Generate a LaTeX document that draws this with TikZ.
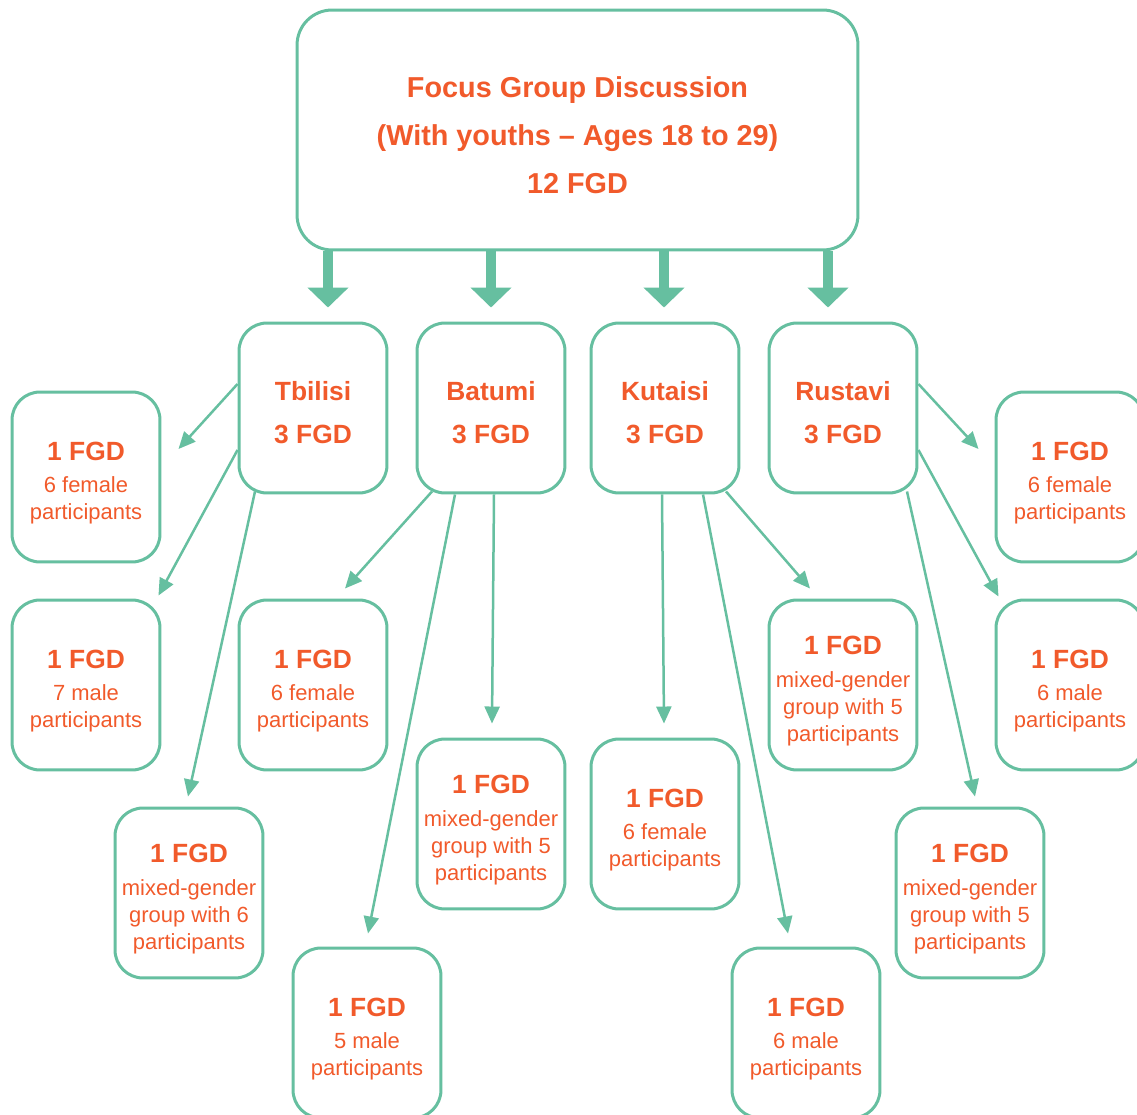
\documentclass[tikz,border=0pt]{standalone}
\usepackage{fontspec}
\setmainfont{Liberation Sans}
\usetikzlibrary{calc,arrows.meta,positioning}
\definecolor{fgdgreen}{HTML}{66BFA0}
\definecolor{fgdorange}{HTML}{F15A2B}
\newcommand{\onefgd}{{\fontsize{15}{15}\selectfont\bfseries\rule{0pt}{17.6pt}1 FGD}\\[3pt]}
\newcommand{\cityfgd}[1]{\rule{0pt}{16.6pt}#1\\3 FGD}

\begin{document}
\begin{tikzpicture}[x=0.02cm,y=-0.02cm,
    box/.style={draw=fgdgreen, line width=0.06cm, rounded corners=0.56cm,
        minimum width=2.96cm, minimum height=3.4cm, align=center,
        text=fgdorange, inner sep=0pt},
    city/.style={box, font=\fontsize{15}{24.5}\selectfont\bfseries},
    leaf/.style={box, font=\fontsize{12.5}{15.4}\selectfont},
    fat/.style={draw=fgdgreen, line width=0.2cm,
        -{Triangle[width=0.8cm,length=0.4cm]}, shorten >=0.28cm},
    thin/.style={draw=fgdgreen, line width=0.05cm,
        -{Triangle[width=0.3cm,length=0.34cm]}}]
    \clip (0,0) rectangle (1137,1115);

    \node[box, rounded corners=0.7cm, minimum width=11.22cm, minimum height=4.8cm,
        font=\fontsize{16.4}{27.3}\selectfont\bfseries] (top) at (577.5,130)
        {\rule{0pt}{17.4pt}Focus Group Discussion\\(With youths -- Ages 18 to 29)\\12 FGD};

    \node[city] (tbl) at (313,408) {\cityfgd{Tbilisi}};
    \node[city] (bat) at (491,408) {\cityfgd{Batumi}};
    \node[city] (kut) at (665,408) {\cityfgd{Kutaisi}};
    \node[city] (rus) at (843,408) {\cityfgd{Rustavi}};

    %Tbilisi
    \node[leaf] (tf) at (86,477) {\onefgd 6 female\\participants};
    \node[leaf] (tm) at (86,685) {\onefgd 7 male\\participants};
    \node[leaf] (tx) at (189,893) {\onefgd mixed-gender\\group with 6\\participants};
    %Batumi
    \node[leaf] (bf) at (313,685) {\onefgd 6 female\\participants};
    \node[leaf] (bx) at (491,824) {\onefgd mixed-gender\\group with 5\\participants};
    \node[leaf] (bm) at (367,1033) {\onefgd 5 male\\participants};
    %Kutaisi
    \node[leaf] (kf) at (665,824) {\onefgd 6 female\\participants};
    \node[leaf] (kx) at (843,685) {\onefgd mixed-gender\\group with 5\\participants};
    \node[leaf] (km) at (806,1033) {\onefgd 6 male\\participants};
    %Rustavi
    \node[leaf] (rf) at (1070,477) {\onefgd 6 female\\participants};
    \node[leaf] (rm) at (1070,685) {\onefgd 6 male\\participants};
    \node[leaf] (rx) at (970,893) {\onefgd mixed-gender\\group with 5\\participants};

    \foreach \c/\dx in {tbl/15, bat/0, kut/-1, rus/-15}
    {
        \draw[fat] ($(\c.north |- top.south)+(\dx,0)$) -- ($(\c.north)+(\dx,0)$);
    };

    \draw[thin] ($(tbl.west)+(0,-24)$) -- ($(tf.east)+(17,-28)$);
    \draw[thin] ($(tbl.west)+(0,42)$) -- ($(tm.north east)+(-3,-3)$);
    \draw[thin] ($(tbl.south)+(-58,-3)$) -- ($(tx.north)+(-1,-10)$);
    \draw[thin] ($(bat.south)+(-59,-3)$) -- ($(bf.north)+(32,-10)$);
    \draw[thin] ($(bat.south)+(-36,0)$) -- ($(bm.north)+(1,-13)$);
    \draw[thin] ($(bat.south)+(3,0)$) -- ($(bx.north)+(1,-14)$);
    \draw[thin] ($(kut.south)+(-3,0)$) -- ($(kf.north)+(-1,-14)$);
    \draw[thin] ($(kut.south)+(38,0)$) -- ($(km.north)+(-18,-13)$);
    \draw[thin] ($(kut.south)+(61,-3)$) -- ($(kx.north)+(-33,-10)$);
    \draw[thin] ($(rus.east)+(0,-24)$) -- ($(rf.west)+(-16,-28)$);
    \draw[thin] ($(rus.east)+(0,42)$) -- ($(rm.north west)+(4,-2)$);
    \draw[thin] ($(rus.south)+(64,-3)$) -- ($(rx.north)+(5,-10)$);
\end{tikzpicture}
\end{document}
